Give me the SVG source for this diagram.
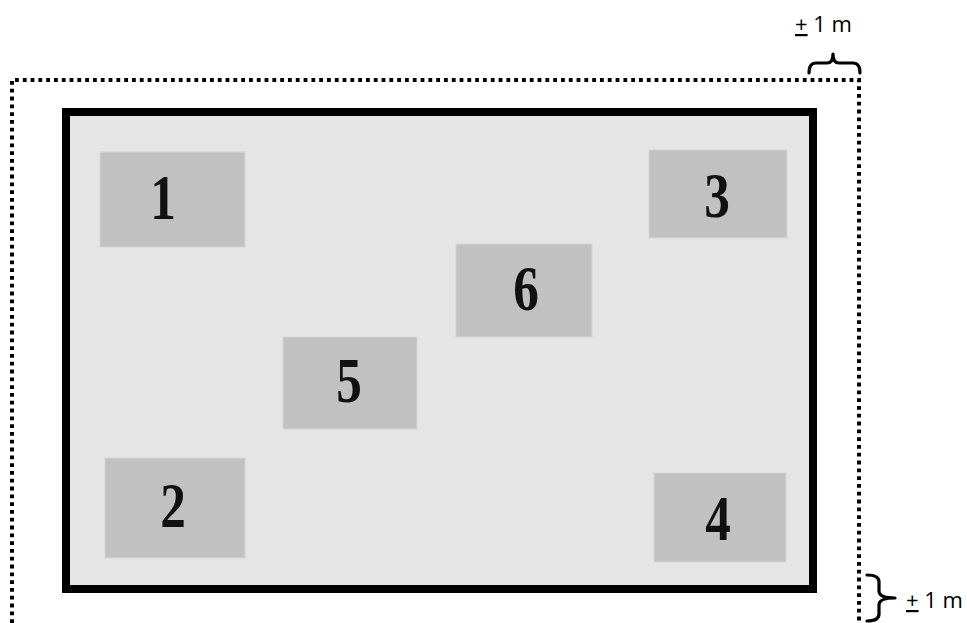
<svg xmlns="http://www.w3.org/2000/svg" width="967" height="623" viewBox="0 0 967 623">
<style>
.box{fill:#c1c1c1;stroke:#d6d6d6;stroke-width:1}
.num{font-family:"Liberation Serif","DejaVu Serif",serif;font-weight:bold;font-size:64px;fill:#111;text-anchor:middle}
.lbl{font-family:"Open Sans","Liberation Sans",sans-serif;font-size:22px;fill:#000}
.brace{fill:none;stroke:#000;stroke-width:3.2;stroke-linejoin:round;stroke-linecap:round}
</style>
<rect width="967" height="623" fill="#fff"/>
<g id="frame">
<path d="M12,623 V80 H859 V623" fill="none" stroke="#000" stroke-width="4" stroke-dasharray="3.8 4"/>
</g>
<g id="room">
<rect x="66" y="112" width="747" height="477" fill="#e5e5e5" stroke="#000" stroke-width="8"/>
</g>
<g id="node1"><rect class="box" x="100" y="152" width="145" height="95"/><text class="num" transform="translate(163 219) scale(0.8 1)">1</text></g>
<g id="node3"><rect class="box" x="649" y="150" width="138" height="88"/><text class="num" transform="translate(717 217) scale(0.8 1)">3</text></g>
<g id="node6"><rect class="box" x="456" y="244" width="136" height="93"/><text class="num" transform="translate(526 310) scale(0.8 1)">6</text></g>
<g id="node5"><rect class="box" x="283" y="337" width="134" height="92"/><text class="num" transform="translate(349 402) scale(0.8 1)">5</text></g>
<g id="node2"><rect class="box" x="105" y="458" width="140" height="100"/><text class="num" transform="translate(173 527) scale(0.8 1)">2</text></g>
<g id="node4"><rect class="box" x="654" y="473" width="132" height="89"/><text class="num" transform="translate(718 540) scale(0.8 1)">4</text></g>
<g id="dim-top">
<path class="brace" d="M809,73 Q809,63 816,63 H827 Q833,63 833,54 Q833,63 839,63 H853 Q860,63 860,73"/>
<text class="lbl" x="795" y="32"><tspan text-decoration="underline">+</tspan> 1 m</text>
</g>
<g id="dim-bottom">
<path class="brace" d="M867,575 Q879,575 879,582 V591 Q879,598 895,598 Q879,598 879,605 V614 Q879,621 867,621"/>
<text class="lbl" x="906" y="608"><tspan text-decoration="underline">+</tspan> 1 m</text>
</g>
</svg>
